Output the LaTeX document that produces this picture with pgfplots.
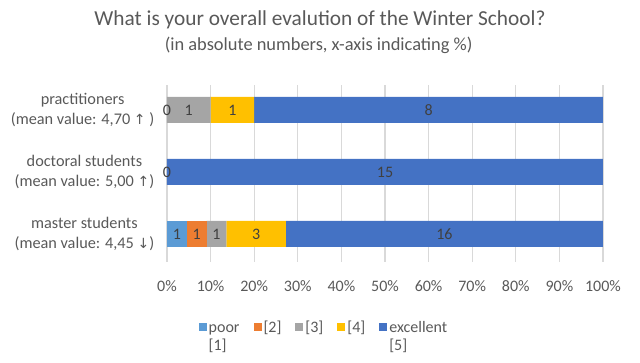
\documentclass[border=0pt]{standalone}
\usepackage{pgfplots}
\pgfplotsset{compat=1.18}
\usepackage{fontspec}
\setmainfont{Carlito}
\newfontfamily\sym{DejaVu Sans}
\definecolor{cpoor}{HTML}{5B9BD5}
\definecolor{ctwo}{HTML}{ED7D31}
\definecolor{cthree}{HTML}{A5A5A5}
\definecolor{cfour}{HTML}{FFC000}
\definecolor{cexc}{HTML}{4472C4}
\definecolor{txt}{HTML}{595959}
\definecolor{lbl}{HTML}{404040}
\definecolor{gridc}{HTML}{D9D9D9}
\newcommand{\up}{{\sym\fontsize{10.5}{12}\selectfont ↑}}
\newcommand{\down}{{\sym\fontsize{10.5}{12}\selectfont ↓}}
\newcommand{\two}[2]{\begin{tabular}[t]{@{}l@{}}#1\\{}#2\end{tabular}}
\begin{document}
\begin{tikzpicture}
\useasboundingbox (0,0) rectangle (480pt,272.25pt);
\node[font=\fontsize{16}{19}\selectfont, text=txt] at (240pt,257.25pt) {What is your overall evalution of the Winter School?};
\node[font=\fontsize{13.8}{16}\selectfont, text=txt] at (239pt,238.5pt) {(in absolute numbers, x-axis indicating \%)};
\begin{axis}[
  at={(125.25pt,75.75pt)}, anchor=south west,
  scale only axis, width=327pt, height=132.75pt,
  xbar stacked, bar width=19.5pt,
  xmin=0, xmax=100, ymin=-0.452, ymax=2.403,
  xtick={0,10,...,100},
  xticklabel={\pgfmathprintnumber{\tick}\%},
  /pgf/number format/assume math mode=true,
  ytick={0,1,2},
  yticklabels={{master students\\(mean value: 4,45 \down)},{doctoral students\\(mean value: 5,00 \up)},{practitioners\\(mean value: 4,70 \up\ )}},
  yticklabel style={align=center, font=\fontsize{12.2}{14.5}\selectfont, text=txt, xshift=-6pt},
  xticklabel style={font=\fontsize{12}{14}\selectfont, text=txt, yshift=-10.5pt},
  major tick length=0pt,
  axis line style={draw=none},
  xmajorgrids, major grid style={draw=gridc, line width=0.8pt},
  legend columns=5,
  legend style={draw=none, fill=none, at={(0.36,-0.294)}, anchor=north, font=\fontsize{12}{13.5}\selectfont, text=txt, nodes={inner xsep=1.5pt}, cells={anchor=base west}, /tikz/every even column/.append style={column sep=9pt}},
  legend image code/.code={\fill[#1] (0pt,1pt) rectangle (6pt,7pt);},
]
\addplot[fill=cpoor, draw=none] coordinates {(4.5455,0) (0,1) (0,2)};
\addlegendentry{\two{poor}{[1]}}
\addplot[fill=ctwo, draw=none] coordinates {(4.5455,0) (0,1) (0,2)};
\addlegendentry{{}[2]}
\addplot[fill=cthree, draw=none] coordinates {(4.5455,0) (0,1) (10,2)};
\addlegendentry{{}[3]}
\addplot[fill=cfour, draw=none] coordinates {(13.6364,0) (0,1) (10,2)};
\addlegendentry{{}[4]}
\addplot[fill=cexc, draw=none] coordinates {(72.7273,0) (100,1) (80,2)};
\addlegendentry{\two{excellent}{[5]}}
\end{axis}
\begin{axis}[
  at={(125.25pt,75.75pt)}, anchor=south west,
  scale only axis, width=327pt, height=132.75pt,
  xmin=0, xmax=100, ymin=-0.452, ymax=2.403,
  hide axis,
]
\addplot[draw=none, mark=none, nodes near coords, point meta=explicit symbolic,
  every node near coord/.style={anchor=center, font=\fontsize{12}{14}\selectfont, text=lbl, inner sep=0pt}]
  table[meta=l] {
x y l
2.2727 0 1
6.8182 0 1
11.3636 0 1
20.4545 0 3
63.6364 0 16
0 1 0
50 1 15
0 2 0
5 2 1
15 2 1
60 2 8
};
\end{axis}
\end{tikzpicture}
\end{document}
